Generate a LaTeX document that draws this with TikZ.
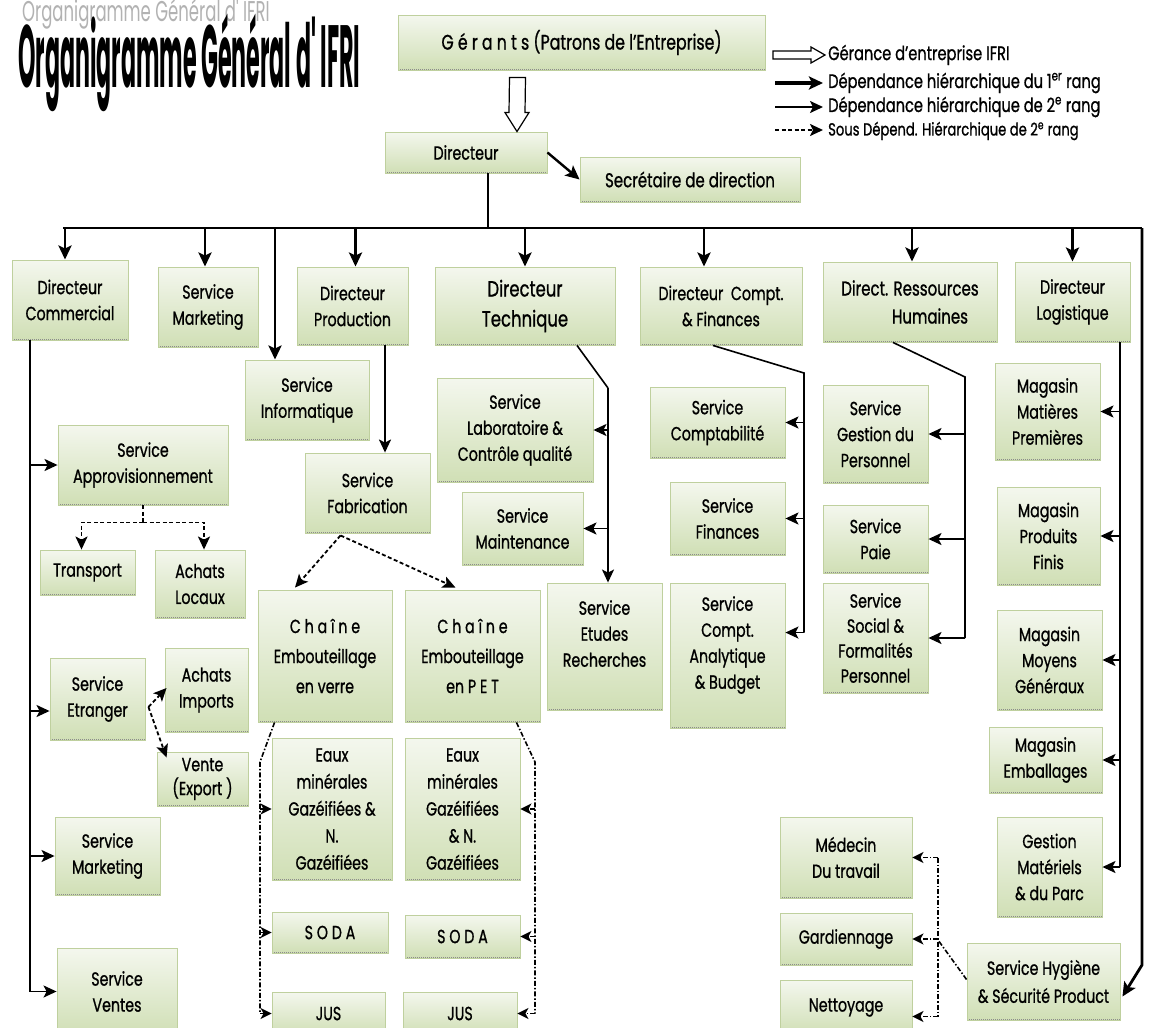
\documentclass[tikz,border=0pt]{standalone}
\usepackage{fontspec}
\setmainfont{Poppins}[FakeStretch=0.75, FakeBold=0.9]
\newfontfamily\titlefont{Poppins}[FakeStretch=0.75]
\usetikzlibrary{arrows.meta,calc}
\definecolor{boxtop}{HTML}{F4F7EE}
\definecolor{boxbot}{HTML}{D0DFB5}
\definecolor{boxline}{HTML}{BFD09E}
\tikzset{
  box/.style={draw=boxline, line width=0.9pt, top color=boxtop, bottom color=boxbot,
    inner sep=1pt, align=center, font=\fontsize{19}{26}\selectfont,
    path picture={\draw[black!45, line width=2.4pt, dash pattern=on 1pt off 1pt]
      (path picture bounding box.south west) -- (path picture bounding box.south east);}},
  rankone/.style={line width=2.8pt, line join=round, -{Stealth[length=14pt,width=13pt,inset=3pt]}},
  bus/.style={line width=2.8pt},
  ranktwo/.style={line width=1.6pt, -{Stealth[length=13pt,width=12pt,inset=3pt]}},
  linetwo/.style={line width=1.6pt},
  subline/.style={line width=1.8pt, dash pattern=on 4pt off 2.5pt},
  subarrow/.style={subline, -{Stealth[length=13pt,width=12pt,inset=3pt]}},
  ddline/.style={line width=1.6pt, dash pattern=on 5pt off 2pt on 1.5pt off 2pt},
  ddarrow/.style={ddline, -{Stealth[length=11pt,width=11pt,inset=3pt]}},
  hollow/.style={draw=black, line width=1.2pt, fill=white, line join=miter},
  legtext/.style={anchor=west, inner sep=0pt, font=\fontsize{19.5}{20}\selectfont}
}
\newcommand\obox[6][]{%
  \node[box,#1,minimum width={(#5-#3)*1pt},minimum height={(#6-#4)*1pt}] (#2) at ({(#3+#5)/2},{(#4+#6)/2})}
\begin{document}
\begin{tikzpicture}[x=1pt,y=-1pt]
\useasboundingbox (0,0) rectangle (1149,1028);
\fill[white] (0,0) rectangle (1149,1028);

% title
\node[anchor=west, inner sep=0pt, text=black!30] (ttlshadow) at (22,14)
  {\scalebox{1.0}[1.3]{\titlefont\fontsize{22}{22}\selectfont Organigramme Général d' IFRI}};
\node[anchor=west, inner sep=0pt] (ttl) at (18,63)
  {\scalebox{0.82}[2.45]{\titlefont\fontsize{36}{36}\selectfont\bfseries Organigramme Général d' IFRI}};

% boxes
\obox[font=\fontsize{21}{24}\selectfont]{ger}{398}{15}{765}{70}{G é r a n t s (Patrons de l'Entreprise)};
\obox{dir}{385}{132}{547}{173}{Directeur};
\obox[font=\fontsize{20}{24}\selectfont]{sec}{580}{157}{800}{202}{Secrétaire de direction};

\obox{dcom}{12}{260}{128}{340}{Directeur\\Commercial};
\obox{smk}{158}{267}{258}{347}{Service\\Marketing};
\obox{dprod}{297}{267}{408}{345}{Directeur\\Production};
\obox[font=\fontsize{22}{30}\selectfont]{dtech}{435}{267}{615}{345}{Directeur\\Technique};
\obox{dcf}{640}{267}{802}{345}{Directeur~~Compt.\\\& Finances};
\obox[font=\fontsize{20}{28}\selectfont]{drh}{823}{262}{997}{342}{Direct. Ressources\\\hspace*{2em}Humaines};
\obox{dlog}{1015}{262}{1130}{342}{Directeur\\Logistique};

\obox{sinf}{245}{360}{369}{440}{Service\\Informatique};
\obox{sfab}{305}{453}{430}{533}{Service\\Fabrication};
\obox{sapp}{58}{425}{228}{505}{Service\\Approvisionnement};
\obox{trans}{40}{550}{135}{595}{Transport};
\obox{aloc}{155}{550}{245}{618}{Achats\\Locaux};
\obox{setr}{50}{658}{145}{740}{Service\\Etranger};
\obox{aimp}{165}{648}{248}{732}{Achats\\Imports};
\obox[font=\fontsize{19}{24}\selectfont]{vexp}{157}{752}{248}{806}{Vente\\(Export )};
\obox{smkb}{55}{817}{160}{895}{Service\\Marketing};
\obox{svente}{57}{948}{177}{1035}{Service\\Ventes};

\obox[font=\fontsize{19}{30}\selectfont]{chv}{258}{590}{392}{722}{C h a î n e\\Embouteillage\\en verre};
\obox[font=\fontsize{19}{30}\selectfont]{chp}{405}{590}{540}{722}{C h a î n e\\Embouteillage\\en P E T};
\obox[font=\fontsize{19}{27}\selectfont]{eauv}{272}{738}{392}{880}{Eaux\\minérales\\Gazéifiées \&\\N.\\Gazéifiées};
\obox[font=\fontsize{19}{27}\selectfont]{eaup}{405}{738}{520}{880}{Eaux\\minérales\\Gazéifiées\\\& N.\\Gazéifiées};
\obox{sodav}{272}{912}{388}{953}{S O D A};
\obox{sodap}{405}{915}{520}{958}{S O D A};
\obox{jusv}{272}{992}{385}{1035}{JUS};
\obox{jusp}{403}{992}{517}{1035}{JUS};

\obox{slab}{437}{378}{593}{482}{Service\\Laboratoire \&\\Contrôle qualité};
\obox{smaint}{462}{492}{583}{565}{Service\\Maintenance};
\obox{setud}{547}{583}{662}{710}{Service\\Etudes\\Recherches\\\mbox{}};
\obox{scomp}{650}{387}{785}{458}{Service\\Comptabilité};
\obox{sfin}{670}{482}{785}{555}{Service\\Finances};
\obox{sana}{670}{583}{785}{728}{Service\\Compt.\\Analytique\\\& Budget\\\mbox{}};
\obox{sgp}{823}{385}{928}{483}{Service\\Gestion du\\Personnel};
\obox{spaie}{823}{505}{928}{573}{Service\\Paie};
\obox[font=\fontsize{19}{25}\selectfont]{ssoc}{823}{583}{928}{693}{Service\\Social \&\\Formalités\\Personnel};

\obox{mmp}{995}{363}{1100}{460}{Magasin\\Matières\\Premières};
\obox{mpf}{997}{487}{1100}{585}{Magasin\\Produits\\Finis};
\obox{mmg}{997}{610}{1102}{710}{Magasin\\Moyens\\Généraux};
\obox{memb}{989}{727}{1102}{793}{Magasin\\Emballages};
\obox{gmat}{997}{817}{1102}{917}{Gestion\\Matériels\\\& du Parc};
\obox[font=\fontsize{19}{28}\selectfont]{shyg}{967}{943}{1120}{1020}{Service Hygiène\\\& Sécurité Product};
\obox{medt}{780}{817}{912}{898}{Médecin\\Du travail};
\obox{gard}{780}{913}{912}{965}{Gardiennage};
\obox{nett}{780}{980}{912}{1035}{Nettoyage};

% legend
\coordinate (lgA) at (773,55); \coordinate (lgB) at (825,55);
\draw[hollow] ($(lgA)+(0,-4)$) -- ($(lgB)+(-14,-4)$) -- ($(lgB)+(-14,-8)$) -- (lgB)
  -- ($(lgB)+(-14,8)$) -- ($(lgB)+(-14,4)$) -- ($(lgA)+(0,4)$) -- cycle;
\node[legtext] (lg1) at (828,55) {Gérance d'entreprise IFRI};
\coordinate (lgC) at (775,83); \coordinate (lgD) at (823,83);
\draw[rankone, line width=3.2pt] (lgC) -- (lgD);
\node[legtext] (lg2) at (828,83) {Dépendance hiérarchique du 1\textsuperscript{er} rang};
\coordinate (lgE) at (775,107); \coordinate (lgF) at (823,107);
\draw[ranktwo, line width=2.2pt] (lgE) -- (lgF);
\node[legtext] (lg3) at (828,107) {Dépendance hiérarchique de 2\textsuperscript{e} rang};
\coordinate (lgG) at (775,130); \coordinate (lgH) at (823,130);
\draw[subarrow, line width=2.2pt] (lgG) -- (lgH);
\node[legtext, font=\fontsize{17.5}{18}\selectfont] (lg4) at (828,131) {Sous Dépend. Hiérarchique de 2\textsuperscript{e} rang};

% hollow arrow Gerants -> Directeur
\coordinate (hA) at ($(ger.south)+(-64,7)$);
\coordinate (hB) at ($(dir.north)+(51,0)$);
\draw[hollow] ($(hA)+(-8,0)$) -- ($(hA)+(8,0)$) -- ($(hB)+(8,-19)$) -- ($(hB)+(12,-19)$) -- (hB)
  -- ($(hB)+(-12,-19)$) -- ($(hB)+(-8,-19)$) -- cycle;

\draw[rankone, line width=2.4pt] (dir.east) -- (sec.west);

% main bus
\coordinate (busL) at (63,228); \coordinate (busR) at (1142,228);
\coordinate (dirdrop) at ($(dir.south)+(22,0)$);
\draw[bus] (dirdrop) -- (dirdrop |- busL);
\draw[bus] (busL) -- (busR);
\coordinate (hygin) at ($(shyg.east)+(2,15)$);
\draw[rankone] (busR) -- (busR |- 0,965) -- (hygin);

\foreach \n/\dx in {dcom/-5, smk/-3, dprod/3, dtech/0, dcf/-17, drh/2, dlog/0}{
  \path ($(\n.north)+(\dx,0)$) coordinate (tmp);
  \draw[rankone] (tmp |- busL) -- (tmp);
}
\path ($(sinf.north)+(-32,0)$) coordinate (infin);
\draw[rankone] (infin |- busL) -- (infin);

% production
\path ($(sfab.north)+(17.5,0)$) coordinate (fabin);
\draw[ranktwo, line width=2pt] (fabin |- dprod.south) -- (fabin);
\coordinate (fabout) at ($(sfab.south)+(-27,2)$);
\draw[subarrow] (fabout) -- ($(chv.north)+(-30,-2)$);
\draw[subarrow] (fabout) -- ($(chp.north)+(-17,-2)$);

\coordinate (vA) at ($(chv.south west)+(17,0)$);
\coordinate (vB) at (260,762);
\draw[ddline] (vA) -- (vB) -- (vB |- jusv.west);
\draw[ddarrow] (vB |- eauv.west) -- (eauv.west);
\draw[ddarrow] (vB |- sodav.west) -- (sodav.west);
\draw[ddarrow] (vB |- jusv.west) -- (jusv.west);

\coordinate (pA) at ($(chp.south east)+(-24,0)$);
\coordinate (pB) at (535,762);
\draw[ddline] (pA) -- (pB) -- (pB |- jusp.east);
\draw[ddarrow] (pB |- eaup.east) -- (eaup.east);
\draw[ddarrow] (pB |- sodap.east) -- (sodap.east);
\draw[ddarrow] (pB |- jusp.east) -- (jusp.east);

% technique
\coordinate (tA) at ($(dtech.south)+(52,0)$);
\coordinate (tB) at (608,388);
\draw[linetwo] (tA) -- (tB);
\draw[ranktwo] (tB) -- (tB |- setud.north);
\draw[ranktwo] (tB |- slab.east) -- (slab.east);
\draw[ranktwo] (tB |- smaint.east) -- (smaint.east);

% compta
\coordinate (cA) at ($(dcf.south)+(-8,0)$);
\coordinate (cB) at (804,373);
\path ($(sana.north east)+(0,50)$) coordinate (sanain);
\draw[linetwo] (cA) -- (cB) -- (cB |- sanain);
\draw[ranktwo] (cB |- scomp.east) -- (scomp.east);
\draw[ranktwo] (cB |- sfin.east) -- (sfin.east);
\draw[ranktwo] (cB |- sanain) -- (sanain);

% RH
\coordinate (rA) at ($(drh.south)+(-17,0)$);
\coordinate (rB) at (965,377);
\draw[linetwo] (rA) -- (rB) -- (rB |- ssoc.east);
\draw[ranktwo] (rB |- sgp.east) -- (sgp.east);
\draw[ranktwo] (rB |- spaie.east) -- (spaie.east);
\draw[ranktwo] (rB |- ssoc.east) -- (ssoc.east);

% logistique
\coordinate (lA) at ($(dlog.south)+(47.5,0)$);
\draw[linetwo] (lA) -- (lA |- gmat.east);
\foreach \n in {mmp,mpf,mmg,memb,gmat}{
  \draw[ranktwo] (lA |- \n.east) -- (\n.east);
}

% commercial
\coordinate (kA) at ($(dcom.south)+(-40,0)$);
\draw[linetwo] (kA) -- (kA |- svente.west);
\draw[ranktwo] (kA |- sapp.west) -- (sapp.west);
\coordinate (etrin) at ($(setr.west)+(0,12)$);
\draw[ranktwo] (kA |- etrin) -- (etrin);
\draw[ranktwo] (kA |- smkb.west) -- (smkb.west);
\draw[ranktwo] (kA |- svente.west) -- (svente.west);

\coordinate (aB) at ($(sapp.south)+(0,17)$);
\draw[subline] (sapp.south) -- (aB);
\draw[subarrow] (aB) -| ($(trans.north)+(-6,0)$);
\draw[subarrow] (aB) -| ($(aloc.north)+(4,0)$);

\coordinate (eA) at ($(setr.east)+(3,8)$);
\draw[subarrow] (eA) -- ($(aimp.west)+(2,-2)$);
\draw[subarrow] (eA) -- ($(vexp.north west)+(10,6)$);

% hygiene
\coordinate (gA) at ($(shyg.west)+(0,-2)$);
\coordinate (gB) at (938,940);
\draw[ddline] (gA) -- (gB);
\draw[ddline] (gB |- medt.east) -- ($(gB |- nett.east)+(0,9)$);
\draw[ddarrow] (gB |- medt.east) -- (medt.east);
\draw[ddarrow] (gB |- gard.east) -- (gard.east);
\coordinate (nettin) at ($(nett.east)+(0,9)$);
\draw[ddarrow] (gB |- nettin) -- (nettin);
\end{tikzpicture}
\end{document}
